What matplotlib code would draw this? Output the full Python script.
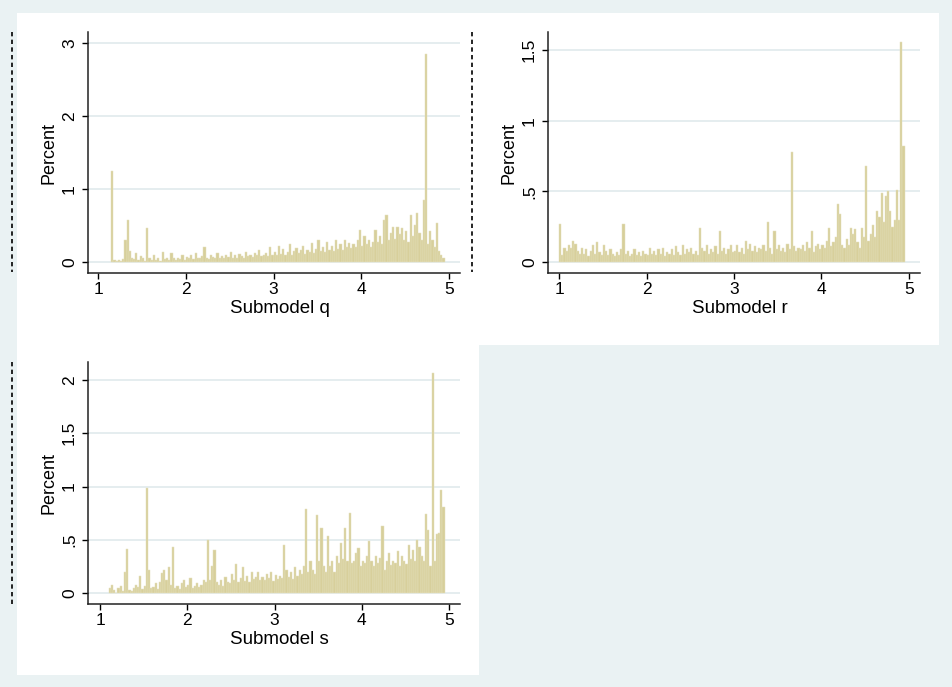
import numpy as np
import matplotlib.pyplot as plt
from matplotlib.lines import Line2D
from matplotlib.patches import Rectangle

plt.rcParams['font.family'] = ['Liberation Sans', 'DejaVu Sans']

W, H = 953, 687
binwidth = 0.025

# percent of observations in each bin, first bin starts at *_start
q_start = 1.15
q_pct = [1.25, 0.03, 0.02, 0.03, 0.02, 0.04, 0.30, 0.57, 0.15, 0.05,
         0.04, 0.12, 0.03, 0.08, 0.05, 0.02, 0.46, 0.06, 0.03, 0.10,
         0.03, 0.05, 0.02, 0.14, 0.04, 0.06, 0.03, 0.12, 0.05, 0.03,
         0.06, 0.04, 0.10, 0.03, 0.07, 0.05, 0.09, 0.04, 0.12, 0.05,
         0.05, 0.08, 0.20, 0.06, 0.04, 0.10, 0.07, 0.05, 0.12, 0.06,
         0.08, 0.05, 0.10, 0.07, 0.13, 0.06, 0.09, 0.05, 0.11, 0.08,
         0.06, 0.14, 0.08, 0.10, 0.07, 0.12, 0.09, 0.16, 0.08, 0.10,
         0.12, 0.08, 0.20, 0.10, 0.14, 0.09, 0.22, 0.11, 0.18, 0.10,
         0.13, 0.24, 0.10, 0.15, 0.19, 0.12, 0.16, 0.22, 0.11, 0.17,
         0.14, 0.26, 0.12, 0.18, 0.30, 0.15, 0.20, 0.13, 0.28, 0.16,
         0.22, 0.15, 0.30, 0.18, 0.25, 0.16, 0.30, 0.20, 0.26, 0.19,
         0.24, 0.20, 0.30, 0.44, 0.22, 0.35, 0.25, 0.30, 0.20, 0.27,
         0.44, 0.28, 0.35, 0.25, 0.58, 0.65, 0.30, 0.40, 0.48, 0.32,
         0.48, 0.38, 0.46, 0.30, 0.42, 0.28, 0.65, 0.35, 0.50, 0.67,
         0.40, 0.30, 0.85, 2.85, 0.25, 0.42, 0.30, 0.20, 0.54, 0.15,
         0.10, 0.05]

r_start = 1.00
r_pct = [0.27, 0.05, 0.10, 0.08, 0.12, 0.10, 0.15, 0.13, 0.08, 0.06,
         0.10, 0.06, 0.09, 0.04, 0.08, 0.12, 0.06, 0.14, 0.07, 0.05,
         0.12, 0.08, 0.05, 0.09, 0.06, 0.04, 0.07, 0.05, 0.09, 0.27,
         0.06, 0.08, 0.04, 0.06, 0.09, 0.05, 0.07, 0.04, 0.08, 0.06,
         0.05, 0.10, 0.06, 0.08, 0.05, 0.09, 0.06, 0.10, 0.04, 0.07,
         0.06, 0.09, 0.05, 0.11, 0.07, 0.05, 0.12, 0.06, 0.09, 0.07,
         0.10, 0.06, 0.08, 0.05, 0.24, 0.10, 0.08, 0.12, 0.06, 0.09,
         0.07, 0.11, 0.06, 0.22, 0.08, 0.10, 0.06, 0.09, 0.12, 0.07,
         0.08, 0.12, 0.07, 0.10, 0.06, 0.15, 0.09, 0.13, 0.08, 0.11,
         0.07, 0.10, 0.09, 0.12, 0.08, 0.28, 0.10, 0.06, 0.22, 0.09,
         0.12, 0.08, 0.10, 0.07, 0.13, 0.09, 0.78, 0.11, 0.08, 0.10,
         0.09, 0.12, 0.08, 0.14, 0.10, 0.22, 0.07, 0.11, 0.13, 0.09,
         0.12, 0.10, 0.15, 0.24, 0.11, 0.14, 0.18, 0.41, 0.34, 0.12,
         0.10, 0.16, 0.12, 0.24, 0.20, 0.23, 0.14, 0.10, 0.24, 0.18,
         0.68, 0.15, 0.20, 0.26, 0.18, 0.36, 0.32, 0.49, 0.28, 0.47,
         0.50, 0.36, 0.25, 0.30, 0.51, 0.30, 1.56, 0.82]

s_start = 1.10
s_pct = [0.05, 0.08, 0.03, 0.00, 0.05, 0.07, 0.02, 0.20, 0.41, 0.03,
         0.02, 0.05, 0.08, 0.06, 0.16, 0.04, 0.07, 0.99, 0.22, 0.05,
         0.06, 0.09, 0.04, 0.10, 0.19, 0.22, 0.12, 0.24, 0.08, 0.43,
         0.05, 0.07, 0.04, 0.09, 0.12, 0.06, 0.08, 0.14, 0.05, 0.07,
         0.09, 0.06, 0.08, 0.12, 0.10, 0.50, 0.12, 0.25, 0.40, 0.10,
         0.08, 0.12, 0.07, 0.15, 0.10, 0.09, 0.18, 0.12, 0.27, 0.10,
         0.14, 0.24, 0.11, 0.16, 0.10, 0.20, 0.13, 0.15, 0.20, 0.12,
         0.15, 0.12, 0.18, 0.14, 0.20, 0.11, 0.17, 0.13, 0.16, 0.14,
         0.45, 0.22, 0.15, 0.20, 0.13, 0.24, 0.16, 0.22, 0.18, 0.25,
         0.79, 0.20, 0.30, 0.22, 0.18, 0.73, 0.30, 0.61, 0.25, 0.20,
         0.54, 0.25, 0.30, 0.20, 0.35, 0.28, 0.47, 0.32, 0.61, 0.30,
         0.75, 0.28, 0.30, 0.38, 0.42, 0.25, 0.30, 0.28, 0.35, 0.49,
         0.30, 0.25, 0.35, 0.28, 0.33, 0.63, 0.22, 0.30, 0.38, 0.26,
         0.30, 0.28, 0.39, 0.25, 0.35, 0.30, 0.27, 0.45, 0.32, 0.40,
         0.30, 0.50, 0.43, 0.35, 0.30, 0.74, 0.59, 0.25, 2.07, 0.30,
         0.55, 0.56, 0.97, 0.81]

xticks = [1, 2, 3, 4, 5]
q_yticks, q_ylabels = [0, 1, 2, 3], ['0', '1', '2', '3']
r_yticks, r_ylabels = [0, 0.5, 1, 1.5], ['0', '.5', '1', '1.5']
s_yticks, s_ylabels = [0, 0.5, 1, 1.5, 2], ['0', '.5', '1', '1.5', '2']

bg = '#eaf2f3'
barcolor = '#d7cf9b'


def box(x0, y0, x1, y1):
    # pixel box (top-left origin) -> figure fraction [l, b, w, h]
    return [x0 / W, 1 - y1 / H, (x1 - x0) / W, (y1 - y0) / H]


fig = plt.figure(figsize=(W / 100, H / 100), dpi=100, facecolor=bg)

# white graph regions, kept underneath the axes
for x0, y0, x1, y1 in [(17, 13, 939, 345), (17, 345, 479, 675)]:
    l, b, w, h = box(x0, y0, x1, y1)
    fig.patches.append(Rectangle((l, b), w, h, transform=fig.transFigure,
                                 facecolor='white', edgecolor='none', zorder=-5))

# dashed outlines at the left of the panels
for x, y0, y1 in [(12, 32, 272), (472, 32, 272), (12, 362, 605)]:
    fig.add_artist(Line2D([x / W, x / W], [1 - y0 / H, 1 - y1 / H],
                          transform=fig.transFigure, color='black',
                          linewidth=1.2, linestyle=(0, (2.6, 2.0))))


def hist_panel(rect, start, pct, yticks, ylabels, xlim, ylim, xlabel):
    ax = fig.add_axes(box(*rect))
    ax.set_zorder(1)
    ax.set_facecolor('white')
    edges = start + binwidth * np.arange(len(pct))
    ax.bar(edges, pct, width=binwidth, align='edge', color=barcolor,
           edgecolor='#e6e1bf', linewidth=0.35, zorder=2)
    ax.set_xlim(xlim)
    ax.set_ylim(ylim)
    ax.set_xticks(xticks)
    ax.set_yticks(yticks)
    ax.set_yticklabels(ylabels)
    ax.grid(axis='y', color='#e3ecee', linewidth=1.3, zorder=0)
    ax.set_axisbelow(True)
    for side in ['top', 'right']:
        ax.spines[side].set_visible(False)
    for side in ['left', 'bottom']:
        ax.spines[side].set_color('#222222')
        ax.spines[side].set_linewidth(1.1)
    ax.tick_params(direction='out', length=4, width=1, colors='black',
                   labelsize=12.5)
    ax.tick_params(axis='x', pad=2.7)
    ax.tick_params(axis='y', labelrotation=90, pad=4)
    for t in ax.get_yticklabels():
        t.set_verticalalignment('center')
    ax.set_ylabel('Percent', fontsize=13)
    ax.set_xlabel(xlabel, fontsize=13.5)
    ax.yaxis.set_label_coords(-0.083, 0.5)
    ax.xaxis.set_label_coords(0.515, -0.11)
    return ax


hist_panel((88, 32, 460, 273), q_start, q_pct, q_yticks, q_ylabels,
           (0.886, 5.125), (-0.151, 3.151), 'Submodel q')
hist_panel((548, 32, 920, 273), r_start, r_pct, r_yticks, r_ylabels,
           (0.874, 5.126), (-0.078, 1.628), 'Submodel r')
hist_panel((88, 362, 460, 604), s_start, s_pct, s_yticks, s_ylabels,
           (0.862, 5.126), (-0.103, 2.169), 'Submodel s')

fig.savefig('out.png', dpi=100, facecolor=bg)
